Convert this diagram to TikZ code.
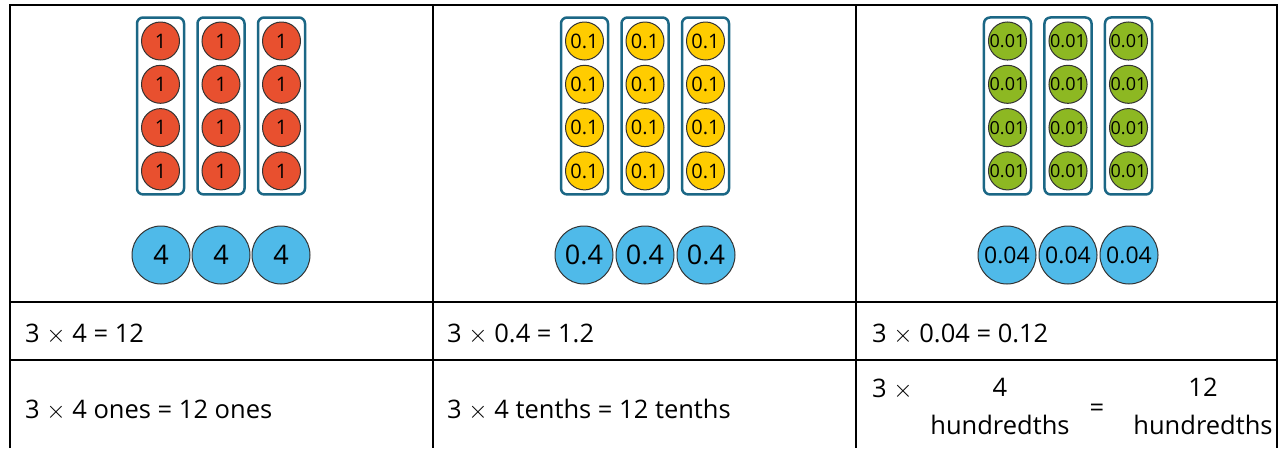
\documentclass[tikz,border=0pt]{standalone}
\usepackage{fontspec}
\setmainfont{Open Sans}
\usepackage{xcolor}
\usepackage{tikz}
\usetikzlibrary{positioning,fit}
\definecolor{onered}{HTML}{E8502F}
\definecolor{tenthyellow}{HTML}{FFCC00}
\definecolor{hundgreen}{HTML}{8DB822}
\definecolor{groupblue}{HTML}{4FBAE9}
\definecolor{frameteal}{HTML}{1B6785}
\newcommand{\tms}{$\times$}
\tikzset{
  % small place-value counters
  ctr/.style={circle,draw=black!80,line width=1pt,minimum size=38pt,inner sep=0pt,
    font=\fontsize{20}{20}\selectfont},
  onectr/.style={ctr,fill=onered},
  tenthctr/.style={ctr,fill=tenthyellow},
  hundctr/.style={ctr,fill=hundgreen,font=\fontsize{18}{18}\selectfont},
  % group totals
  grp/.style={circle,draw=black!80,line width=1pt,minimum size=58pt,inner sep=0pt,
    fill=groupblue,font=\fontsize{27}{27}\selectfont},
  % frame round each group of four
  grpframe/.style={draw=frameteal,line width=2.5pt,rounded corners=6pt,inner sep=4pt},
  % table
  rule/.style={line width=2.5pt},
  cell/.style={anchor=base west,inner sep=0pt,font=\fontsize{25.5}{38}\selectfont},
}

\begin{document}
\begin{tikzpicture}[x=1pt,y=-1pt]
\useasboundingbox (0,0) rectangle (1285,448);

%% ===== table rules =====
\draw[rule] (10,448) -- (10,5) -- (1277,5) -- (1277,448);
\draw[rule] (10,302) -- (1277,302);
\draw[rule] (10,360) -- (1277,360);
\draw[rule] (433,5) -- (433,448);
\draw[rule] (856,5) -- (856,448);

%% ===== counters: ones / tenths / hundredths =====
\foreach \p/\cx/\sty/\val in {a/221/onectr/1, b/645/tenthctr/0.1, c/1068/hundctr/0.01}{
  \foreach \g in {0,1,2}{
    \foreach \r in {0,1,2,3}{
      \node[\sty] (\p\g\r) at ({\cx+60.5*(\g-1)},{41+43.3*\r}) {\val};
    }
    \node[grpframe,fit=(\p\g0)(\p\g3)] (frame\p\g) {};
  }
}
\node[grp] (tota0) at (161,255) {4};
\node[grp] (tota1) at (221,255) {4};
\node[grp] (tota2) at (281,255) {4};
\node[grp] (totb0) at (584,255) {0.4};
\node[grp] (totb1) at (645,255) {0.4};
\node[grp] (totb2) at (706,255) {0.4};
\node[grp,font=\fontsize{23}{23}\selectfont] (totc0) at (1007,255) {0.04};
\node[grp,font=\fontsize{23}{23}\selectfont] (totc1) at (1068,255) {0.04};
\node[grp,font=\fontsize{23}{23}\selectfont] (totc2) at (1129,255) {0.04};

%% ===== equations =====
\node[cell] (eqa) at (25,342)  {3 \tms\ 4 = 12};
\node[cell] (eqb) at (447,342) {3 \tms\ 0.4 = 1.2};
\node[cell] (eqc) at (872,342) {3 \tms\ 0.04 = 0.12};

\node[cell] (wda) at (25,418)  {3 \tms\ 4 ones = 12 ones};
\node[cell] (wdb) at (447,418) {3 \tms\ 4 tenths = 12 tenths};
\node[cell] (wdc) at (872,397) {3 \tms};
\node[font=\fontsize{25.5}{38}\selectfont,align=center,inner sep=0pt] (fourh) at (1000,406) {4\\hundredths};
\node[font=\fontsize{25.5}{38}\selectfont,inner sep=0pt] (eqsign) at (1097,410) {=};
\node[font=\fontsize{25.5}{38}\selectfont,align=center,inner sep=0pt] (twelveh) at (1203,406) {12\\hundredths};
\end{tikzpicture}
\end{document}
